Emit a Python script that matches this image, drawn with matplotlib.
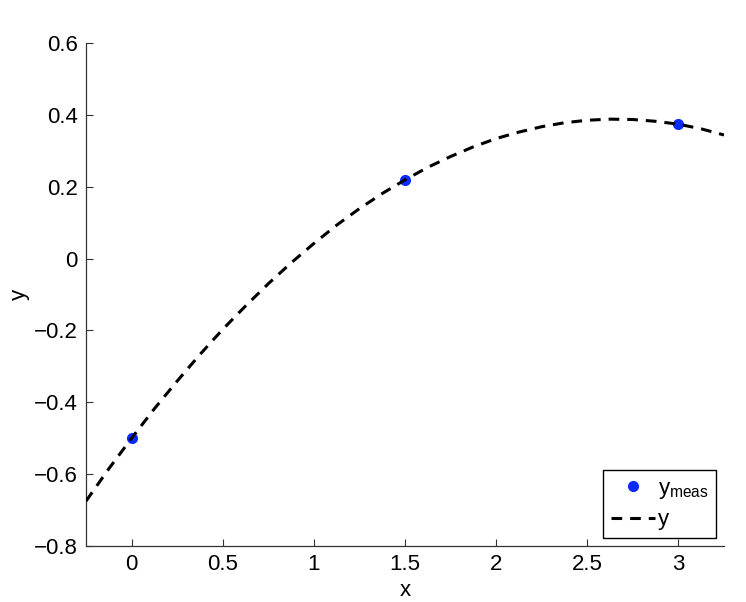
import numpy as np
import matplotlib.pyplot as plt

plt.rcParams['font.family'] = ['Liberation Sans', 'DejaVu Sans']
plt.rcParams['mathtext.fontset'] = 'custom'
plt.rcParams['mathtext.rm'] = 'Liberation Sans'
plt.rcParams['mathtext.it'] = 'Liberation Sans'

# measured points
x_meas = [0.0, 1.5, 3.0]
y_meas = [-0.5, 0.22, 0.375]

# dashed model curve
x_curve = [-0.25, -0.125, 0.0, 0.125, 0.25, 0.375, 0.5, 0.625, 0.75, 0.875,
           1.0, 1.125, 1.25, 1.375, 1.5, 1.625, 1.75, 1.875, 2.0, 2.125,
           2.25, 2.375, 2.5, 2.625, 2.75, 2.875, 3.0, 3.125, 3.25]
y_curve = [-0.675, -0.585, -0.5, -0.418, -0.341, -0.267, -0.197, -0.132,
           -0.070, -0.012, 0.042, 0.093, 0.139, 0.181, 0.219, 0.254, 0.284,
           0.311, 0.334, 0.352, 0.367, 0.378, 0.385, 0.388, 0.387, 0.382,
           0.374, 0.361, 0.344]

fig = plt.figure(figsize=(7.46, 6.02), dpi=100)
ax = fig.add_axes([0.1153, 0.093, 0.8552, 0.8356])

ax.plot(x_meas, y_meas, 'o', color='#0a2aff', markersize=7,
        label=r'y$_{\mathregular{meas}}$', zorder=2)
ax.plot(x_curve, y_curve, color='black', lw=2.2, dashes=(3.5, 2.6),
        label='y', zorder=3)

ax.set_xlim(-0.25, 3.25)
ax.set_ylim(-0.8, 0.6)
ax.set_xticks([0, 0.5, 1, 1.5, 2, 2.5, 3])
ax.set_xticklabels(['0', '0.5', '1', '1.5', '2', '2.5', '3'])
ax.set_yticks(np.round(np.arange(-0.8, 0.61, 0.2), 1))
ax.set_yticklabels(['\u22120.8', '\u22120.6', '\u22120.4', '\u22120.2', '0',
                    '0.2', '0.4', '0.6'])

ax.spines['top'].set_visible(False)
ax.spines['right'].set_visible(False)
for s in ('left', 'bottom'):
    ax.spines[s].set_color('#333333')
    ax.spines[s].set_linewidth(0.9)
ax.tick_params(direction='in', length=5, width=0.8, labelsize=16, pad=6,
               colors='#333333', labelcolor='black')

ax.set_xlabel('x', fontsize=16, labelpad=3)
ax.set_ylabel('y', fontsize=16, labelpad=3)

leg = ax.legend(loc='lower right', fontsize=16, frameon=True, fancybox=False,
                edgecolor='black', framealpha=1, borderpad=0.35,
                handlelength=2.0, handletextpad=0.1, labelspacing=0.4,
                borderaxespad=0.35)
leg.get_frame().set_linewidth(1.0)

fig.savefig('out.png', dpi=100)
